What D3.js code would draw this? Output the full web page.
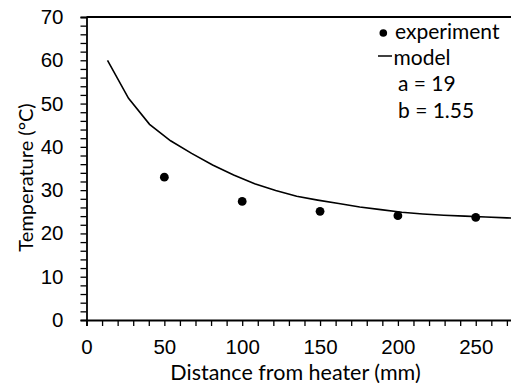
<!DOCTYPE html>
<html>
<head>
<meta charset="utf-8">
<script src="https://cdn.jsdelivr.net/npm/d3@7"></script>
<style>
  body { margin: 0; background: #fff; }
  svg { display: block; font-family: Lato, "Open Sans", sans-serif; }
  .axis path, .axis line { stroke: #000; }
  .axis text { fill: #000; font-size: 20.5px; }
</style>
</head>
<body>
<div id="chart"></div>
<script>
// measured temperatures
const expDistance = [50, 100, 150, 200, 250]
const expTemp = [33.0, 27.4, 25.1, 24.1, 23.7]

// model curve
const modelDistance = [13.5, 27, 40.5, 54, 67.5, 81, 94.5, 108, 121.5, 135, 148.5, 162, 175.5, 189, 202.5, 216, 229.5, 243, 256.5, 270, 283.5]
const modelTemp = [60.0, 51.2, 45.2, 41.4, 38.5, 35.8, 33.5, 31.5, 29.9, 28.6, 27.7, 26.9, 26.1, 25.5, 24.9, 24.5, 24.2, 24.0, 23.8, 23.6, 23.4]

const legendLabels = ['experiment', 'model']
const paramLabels = ['a = 19', 'b = 1.55']

const W = 511
const H = 383
const margin = {top: 17, left: 86.5, bottom: 63}
const xMax = 280

const svg = d3.select('#chart').append('svg')
  .attr('width', W)
  .attr('height', H)

const x = d3.scaleLinear().domain([0, xMax]).range([margin.left, margin.left + xMax * 1.557])
const y = d3.scaleLinear().domain([0, 70]).range([H - margin.bottom, margin.top])

svg.append('defs').append('clipPath').attr('id', 'clip')
  .append('rect')
  .attr('x', x(0)).attr('y', y(70))
  .attr('width', x(xMax) - x(0)).attr('height', y(0) - y(70))

//frame on top
svg.append('line')
  .attr('x1', x(0)).attr('x2', x(xMax))
  .attr('y1', y(70)).attr('y2', y(70))
  .attr('stroke', '#000').attr('stroke-width', 1.8)

//y axis, minor ticks every 2
const yAxis = d3.axisLeft(y)
  .tickValues(d3.range(0, 71, 2))
  .tickSize(6)
  .tickPadding(17)
  .tickFormat(d => d % 10 === 0 ? d : '')
svg.append('g')
  .attr('class', 'axis')
  .attr('transform', `translate(${x(0)},0)`)
  .call(yAxis)
  .call(g => g.select('.domain').attr('stroke-width', 1.8))
  .call(g => g.selectAll('.tick line').attr('stroke-width', 1.3))

//x axis, minor ticks every 10
const xAxis = d3.axisBottom(x)
  .tickValues(d3.range(0, xMax + 1, 10))
  .tickSize(6)
  .tickFormat(d => d % 50 === 0 ? d : '')
svg.append('g')
  .attr('class', 'axis')
  .attr('transform', `translate(0,${y(0)})`)
  .call(xAxis)
  .call(g => g.select('.domain').attr('stroke-width', 1.8))
  .call(g => g.selectAll('.tick line').attr('stroke-width', 1.3))
  .call(g => g.selectAll('.tick text').attr('dy', null).attr('y', 34))

//axis titles
svg.append('text')
  .attr('x', 295.5)
  .attr('y', 379.5)
  .attr('text-anchor', 'middle')
  .attr('font-size', 21.5)
  .text('Distance from heater (mm)')

svg.append('text')
  .attr('transform', `translate(33,${(y(0) + y(70)) / 2 + 9}) rotate(-90)`)
  .attr('text-anchor', 'middle')
  .attr('font-size', 20)
  .text('Temperature (°C)')

//model line
const line = d3.line()
  .x((d, i) => x(modelDistance[i]))
  .y(d => y(d))
svg.append('path')
  .datum(modelTemp)
  .attr('clip-path', 'url(#clip)')
  .attr('fill', 'none')
  .attr('stroke', '#000')
  .attr('stroke-width', 1.6)
  .attr('d', line)

//experiment points
svg.append('g')
  .selectAll('circle')
  .data(expTemp)
  .enter()
  .append('circle')
  .attr('cx', (d, i) => x(expDistance[i]))
  .attr('cy', d => y(d))
  .attr('r', 4.4)
  .attr('fill', '#000')

//legend
const legend = svg.append('g').attr('font-size', 21)
legend.append('circle')
  .attr('cx', 383.3).attr('cy', 33).attr('r', 3.8).attr('fill', '#000')
legend.append('text').attr('x', 395).attr('y', 39).text(legendLabels[0])
legend.append('line')
  .attr('x1', 378).attr('x2', 392).attr('y1', 56).attr('y2', 56)
  .attr('stroke', '#000').attr('stroke-width', 1.5)
legend.append('text').attr('x', 393.5).attr('y', 65).text(legendLabels[1])

legend.selectAll('.param')
  .data(paramLabels)
  .enter()
  .append('text')
  .attr('class', 'param')
  .attr('x', 398)
  .attr('y', (d, i) => 91 + i * 27)
  .text(d => d)
</script>
</body>
</html>
